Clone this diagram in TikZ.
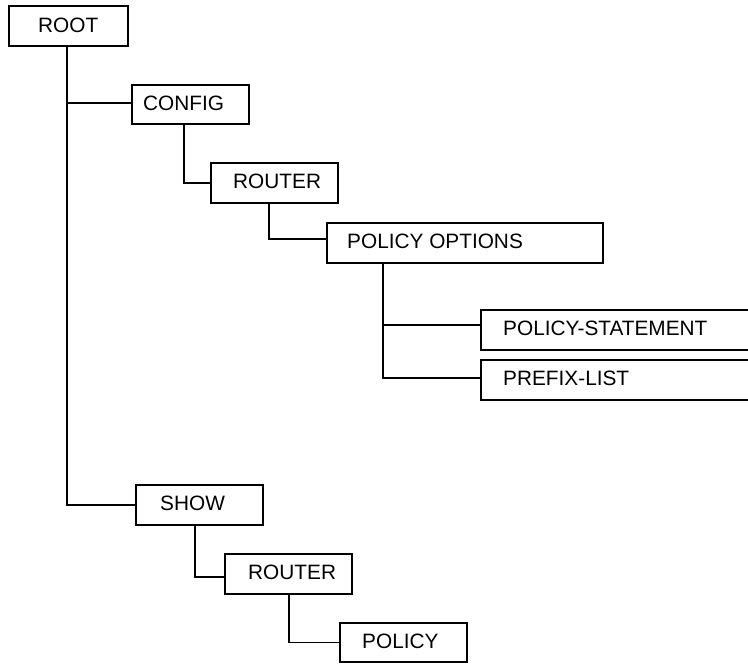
\documentclass[tikz,border=0pt]{standalone}
\usepackage{fontspec}
\setmainfont{Liberation Sans}
\begin{document}
\begin{tikzpicture}[x=1pt,y=-1pt,
  box/.style={draw=black, line width=1.8pt, rectangle, anchor=north west, inner sep=0pt, minimum height=40pt},
  lbl/.style={anchor=base west, inner sep=0pt, font=\fontsize{20.8}{25}\selectfont},
  conn/.style={draw=black, line width=1.8pt}]
\clip (0,0) rectangle (748,664);
\fill[white] (0,0) rectangle (748,664);
% boxes
\node[box, minimum width=119pt] (root) at (8,5) {};
\node[box, minimum width=117pt, minimum height=39pt] (config) at (131,84) {};
\node[box, minimum width=127pt] (router) at (210,162) {};
\node[box, minimum width=276pt] (po) at (326,222) {};
\node[box, minimum width=300pt] (ps) at (480,309) {};
\node[box, minimum width=300pt] (pl) at (480,359) {};
\node[box, minimum width=127pt] (show) at (135,484) {};
\node[box, minimum width=127pt] (router2) at (224,553) {};
\node[box, minimum width=127pt, minimum height=39pt] (policy) at (339,622) {};
% labels
\node[lbl] (t-root) at ([xshift=30pt,yshift=-7pt]root.west) {ROOT};
\node[lbl] (t-config) at ([xshift=12pt,yshift=-6.5pt]config.west) {CONFIG};
\node[lbl] (t-router) at ([xshift=23pt,yshift=-6pt]router.west) {ROUTER};
\node[lbl] (t-po) at ([xshift=21pt,yshift=-6pt]po.west) {POLICY OPTIONS};
\node[lbl] (t-ps) at ([xshift=23pt,yshift=-6pt]ps.west) {POLICY-STATEMENT};
\node[lbl] (t-pl) at ([xshift=23pt,yshift=-6pt]pl.west) {PREFIX-LIST};
\node[lbl] (t-show) at ([xshift=25pt,yshift=-6pt]show.west) {SHOW};
\node[lbl] (t-router2) at ([xshift=24pt,yshift=-6pt]router2.west) {ROUTER};
\node[lbl] (t-policy) at ([xshift=23pt,yshift=-6pt]policy.west) {POLICY};
% connectors
\draw[conn] ([xshift=-1.5pt]root.south) |- ([yshift=1.5pt]config.west);
\draw[conn] ([xshift=-1.5pt]root.south) |- (show.west);
\draw[conn] ([xshift=-6.5pt]config.south) |- (router.west);
\draw[conn] ([xshift=-5.5pt]router.south) |- ([yshift=4pt]po.west);
\draw[conn] ([xshift=57pt]po.south west) |- ([yshift=5pt]ps.west);
\draw[conn] ([xshift=57pt]po.south west) |- ([yshift=2pt]pl.west);
\draw[conn] ([xshift=-4.5pt]show.south) |- ([yshift=-3pt]router2.west);
\draw[conn] ([xshift=0.5pt]router2.south) |- (policy.west);
\end{tikzpicture}
\end{document}
